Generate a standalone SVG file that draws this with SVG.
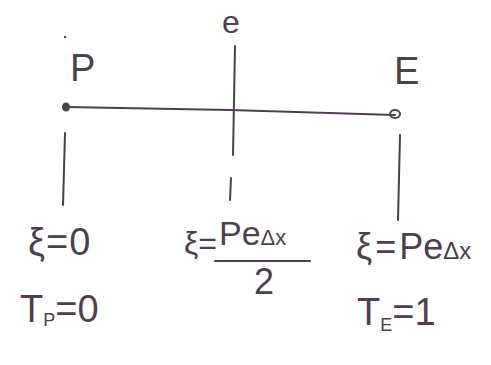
<svg xmlns="http://www.w3.org/2000/svg" width="491" height="365" viewBox="0 0 491 365">
<style>
.ln{stroke:#4d3f4f;stroke-width:2;fill:none;stroke-linecap:round}
.t{font-family:"Liberation Sans",sans-serif;fill:#4d3f4f}
</style>
<rect width="491" height="365" fill="#fff"/>
<g id="connectors">
<path class="ln" d="M66,107 L230,110 L395,115"/>
<path class="ln" d="M235,46 L233,155"/>
<path class="ln" d="M231,178 L230,200"/>
<path class="ln" d="M65,133 L63,205"/>
<path class="ln" d="M400,135 L398,220"/>
</g>
<g id="P">
<ellipse cx="66" cy="107" rx="4" ry="4.5" fill="#4d3f4f"/>
<circle cx="65" cy="37" r="1.2" fill="#4d3f4f"/>
<text class="t" x="70" y="81" font-size="38">P</text>
</g>
<g id="e">
<text class="t" x="222" y="33" font-size="32">e</text>
</g>
<g id="E">
<ellipse cx="395" cy="114" rx="5" ry="4" fill="none" stroke="#4d3f4f" stroke-width="2"/>
<text class="t" x="394" y="84" font-size="38">E</text>
</g>
<g id="labelP">
<text class="t" x="28" y="255" font-size="38" letter-spacing="1">ξ=0</text>
<text class="t" x="20" y="322" font-size="38">T<tspan font-size="18" dy="4">P</tspan><tspan dy="-4">=0</tspan></text>
</g>
<g id="labele">
<text class="t" x="184" y="254" font-size="32">ξ=</text>
<text class="t" x="219" y="245" font-size="34">Pe<tspan font-size="22">Δx</tspan></text>
<line class="ln" x1="215" y1="261" x2="310" y2="261"/>
<text class="t" x="254" y="294" font-size="36">2</text>
</g>
<g id="labelE">
<text class="t" x="356" y="259" font-size="36">ξ<tspan dx="3">=</tspan><tspan dx="3">Pe</tspan><tspan font-size="24">Δx</tspan></text>
<text class="t" x="357" y="325" font-size="38">T<tspan font-size="18" dy="6">E</tspan><tspan dy="-6">=1</tspan></text>
</g>
</svg>
